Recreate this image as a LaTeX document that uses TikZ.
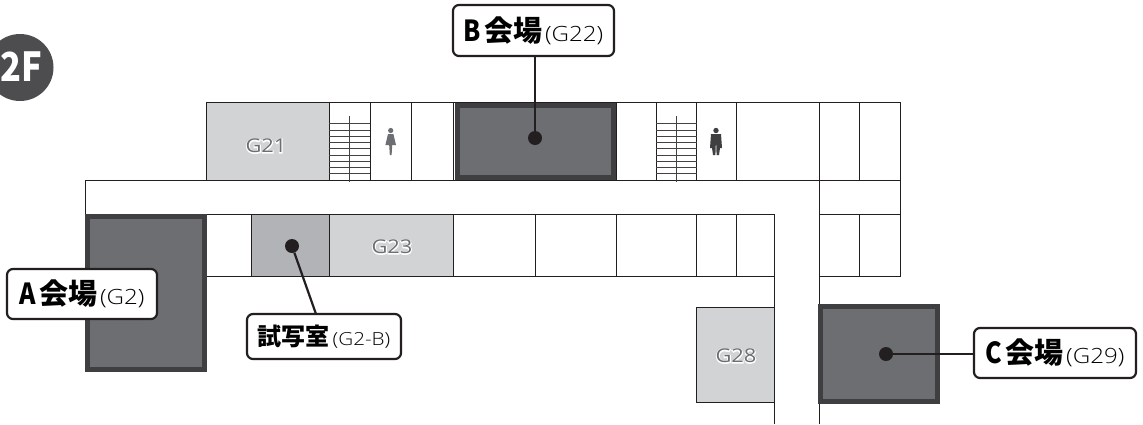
\documentclass[tikz,border=0pt]{standalone}
\usepackage{fontspec}
\newfontfamily\lat{Open Sans Light}[FakeStretch=1.15]
\newfontfamily\latr{Open Sans}[FakeStretch=1.15]
\newfontfamily\lathalo{Open Sans}[FakeStretch=1.15,FakeBold=10]
\newfontfamily\latb{Noto Sans CJK JP Black}
\newfontfamily\latc{Noto Sans CJK JP Black}[FakeStretch=.86]
\definecolor{venue}{HTML}{6D6E71}
\definecolor{venueedge}{HTML}{3F3F41}
\definecolor{badge}{HTML}{4D4D4F}
\definecolor{lightroom}{HTML}{D1D3D4}
\definecolor{midroom}{HTML}{B1B3B6}
\definecolor{inkline}{HTML}{231F20}
\tikzset{
  wall/.style={draw=inkline,line width=1pt},
  lightbox/.style={wall,fill=lightroom},
  midbox/.style={wall,fill=midroom},
  venuebox/.style={draw=venueedge,fill=venue,line width=5pt,line join=miter},
  callout/.style={draw=inkline,fill=white,line width=2.2pt,rounded corners=6pt,inner sep=0pt,align=center},
  leader/.style={draw=inkline,line width=2.2pt},
  pin/.style={circle,fill=inkline,inner sep=0pt,minimum size=14pt},
  tread/.style={draw=inkline!85!white,line width=.8pt},
  roomname/.style={font=\fontsize{19}{19}\selectfont,inner sep=0pt},
}
\newcommand{\vlbl}[4]{{\latc\fontsize{29}{29}\selectfont #1}\hspace{3pt}{\latb\fontsize{29}{29}\selectfont #2}\hspace{3pt}{\lat\fontsize{#4}{#4}\selectfont #3}}
\newcommand{\rname}[1]{\rlap{\color{white}\lathalo #1}{\color{venue}\latr #1}}
\begin{document}
\begin{tikzpicture}[x=1pt,y=-1pt]
\useasboundingbox (0,0) rectangle (1143,424);
\fill[white] (0,0) rectangle (1143,424);
% rooms top row
\draw[lightbox] (206,102) rectangle (329,180);
\draw[wall] (329,102) -- (900,102) -- (900,276) -- (819,276);
\draw[wall] (85,214) -- (85,180) -- (900,180);
\foreach \x in {370,411,453,616,656,696,736,819,859} \draw[wall] (\x,102) -- (\x,180);
% stairs
\foreach \x in {329,656}{
  \foreach \y in {123.5,130,136,142.3,148.7,155,161.3,167.3,173.7}
    \draw[tread] (\x,\y) -- (\x+41,\y);
  \draw[tread] (\x+20.5,116) -- (\x+20.5,182);
}
% second row
\draw[midbox] (251,214) rectangle (329,276);
\draw[lightbox] (329,214) rectangle (453,276);
\draw[wall] (206,214) -- (774,214) -- (774,424);
\draw[wall] (206,276) -- (774,276);
\foreach \x in {453,535,616,696,736} \draw[wall] (\x,214) -- (\x,276);
\draw[wall] (819,180) -- (819,424);
\draw[wall] (819,214) -- (900,214);
\draw[wall] (859,214) -- (859,276);
\draw[lightbox] (696,307) rectangle (774,402);
% venues
\draw[venuebox] (87.5,216.5) rectangle (204,369);
\draw[venuebox] (457.5,105.5) rectangle (613.5,177.5);
\draw[venuebox] (820.5,306.5) rectangle (937,401);
% room names
\node[roomname] (g21) at (266,146) {\rname{G21}};
\node[roomname] (g23) at (392,247) {\rname{G23}};
\node[roomname] (g28) at (736,356) {\rname{G28}};
% floor badge
\fill[badge] (20,67.5) circle (33.5);
\node[text=white,font=\latc\fontsize{40}{40}\selectfont,inner sep=0pt] (floor) at (21,67) {2F};
% toilets
\fill[venue] (390.7,130.5) circle (2.6);
\fill[venue] (388,134) -- (393.4,134) -- (396,145) -- (392.2,145) -- (391.6,155) -- (389.8,155) -- (389.2,145) -- (385.4,145) -- cycle;
\fill[venueedge] (716,130.5) circle (2.7);
\fill[venueedge] (711,134) -- (721,134) -- (722,148) -- (720,148) -- (719,155) -- (716.6,155) -- (716.2,144) -- (715.8,144) -- (715.4,155) -- (713,155) -- (712,148) -- (710,148) -- cycle;
% pins
\node[pin] (pinb) at (535,138) {};
\node[pin] (pint) at (292,246) {};
\node[pin] (pinc) at (886,354) {};
% callouts
\node[callout,minimum width=161pt,minimum height=51pt] (lb) at (533.5,30.5) {\vlbl{B}{会場}{(G22)}{21}};
\node[callout,minimum width=150pt,minimum height=50pt] (la) at (82,294) {\vlbl{A}{会場}{(G2)}{21}};
\node[callout,minimum width=154pt,minimum height=45pt] (lt) at (324,336.5) {{\latb\fontsize{24}{24}\selectfont 試写室}\hspace{3pt}{\lat\fontsize{18}{18}\selectfont (G2-B)}};
\node[callout,minimum width=162pt,minimum height=50pt] (lc) at (1055,353) {\vlbl{C}{会場}{(G29)}{21}};
\draw[leader] (lb.south -| pinb) -- (pinb);
\draw[leader] (pint) -- (316,314);
\draw[leader] (pinc) -- (pinc -| lc.west);
\end{tikzpicture}
\end{document}
